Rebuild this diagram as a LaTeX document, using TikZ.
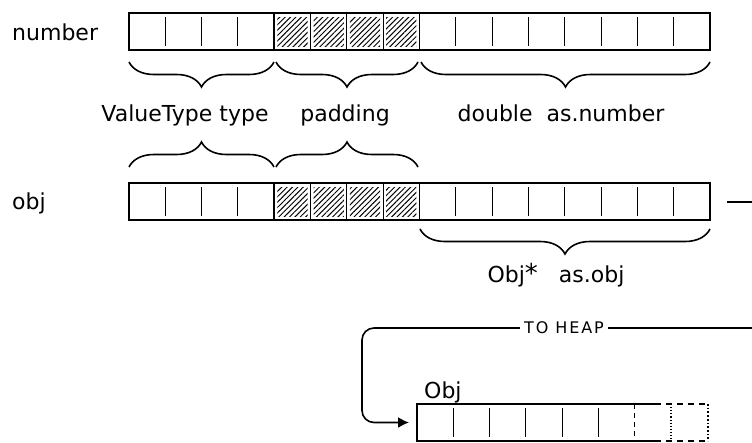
\documentclass[tikz,border=0pt]{standalone}
\usepackage{fontspec}
\setmainfont{DejaVu Sans}
\usetikzlibrary{decorations.pathreplacing,patterns.meta,arrows.meta}

\tikzset{
  lbl/.style={font=\fontsize{22}{26}\selectfont, inner sep=0pt},
  tiny/.style={font=\fontsize{16}{19}\selectfont\addfontfeature{LetterSpace=12},
    inner sep=0pt, inner xsep=4pt, fill=white},
  frame/.style={line width=1.7pt},
  base/.style={line width=2.6pt},
  div/.style={line width=1.1pt},
  hatch/.style={pattern={Lines[angle=45,distance=3.8pt,line width=1pt]}},
  brc/.style={decorate, decoration={brace, amplitude=25pt}, line width=1.6pt},
  brcd/.style={brc, decoration={mirror}},
  ptr/.style={line width=1.6pt, rounded corners=12pt},
}

\begin{document}
\begin{tikzpicture}[x=1pt,y=-1pt]
    \useasboundingbox (0,0) rectangle (752,442);
    % registers
    \foreach \t in {13,183} {
      \foreach \k in {4,...,7}
        \fill[hatch] (129+\k*36.3125+3,\t+4) rectangle (129+\k*36.3125+33.3,\t+33);
      \foreach \k in {1,2,3,9,10,11,12,13,14,15}
        \draw[div] (129+\k*36.3125,\t+4) -- ++(0,29);
      \foreach \k in {5,6,7}
        \draw[div] (129+\k*36.3125,\t) -- ++(0,37);
      \foreach \k in {4,8}
        \draw[frame] (129+\k*36.3125,\t) -- ++(0,37);
      \draw[frame] (129,\t) rectangle (710,\t+37);
      \draw[base] (129,\t+37) -- (710,\t+37);
    }
    \node[lbl, anchor=base west] (numname) at (12,40) {number};
    \node[lbl, anchor=base west] (objname) at (12,209) {obj};
    % braces
    \draw[brcd] (129,62) -- (274,62);
    \draw[brcd] (276,62) -- (418,62);
    \draw[brcd] (421,62) -- (710,62);
    \node[lbl, anchor=base] (typelbl) at (185,121) {ValueType type};
    \node[lbl, anchor=base] (padlbl) at (345,121) {padding};
    \node[lbl, anchor=base] (dbllbl) at (561,121) {double\ \ as.number};
    \draw[brc] (129,167) -- (274,167);
    \draw[brc] (276,167) -- (418,167);
    \draw[brcd] (420,229) -- (710,229);
    \node[lbl, anchor=base] (ptrlbl) at (556,282)
      {Obj{\fontsize{26}{26}\selectfont*}\ \ \ as.obj};
    % pointer to heap
    \coordinate (objout) at (727,202);
    \coordinate (rimA) at (752,202);
    \coordinate (rimB) at (752,328);
    \coordinate (heapw) at (417,422.5);
    \draw[ptr] (objout) -- (rimA);
    \draw[ptr, -{Latex[length=11pt,width=11pt]}, shorten >=8pt]
      (rimB) -- (362,328) -- (362,422.5) -- (heapw);
    \node[tiny] (heaplbl) at (564,328) {TO HEAP};
    % heap object
    \node[lbl, anchor=base west] (heapname) at (424,398) {Obj};
    \foreach \k in {1,...,5}
      \draw[div] (417+\k*36.3,408) -- ++(0,29);
    \draw[div, dash pattern=on 5pt off 4pt] (634.5,404) -- ++(0,37);
    \draw[div, dotted] (671,404) -- ++(0,37);
    \draw[frame, dotted] (708,404) -- ++(0,37);
    \draw[frame] (655,404) -- (417,404) -- (417,441) -- (655,441);
    \draw[frame, dash pattern=on 6pt off 5pt] (655,404) -- (708,404);
    \draw[frame, dash pattern=on 6pt off 5pt] (655,441) -- (708,441);
\end{tikzpicture}
\end{document}
